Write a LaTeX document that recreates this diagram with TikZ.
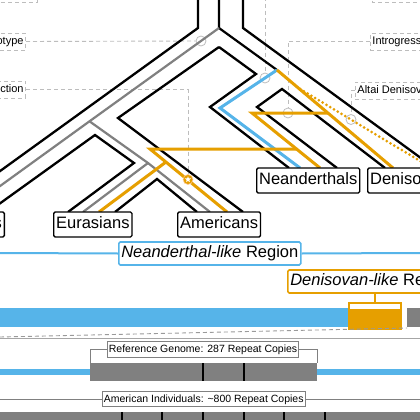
\documentclass[tikz,border=0pt]{standalone}
\usepackage{fontspec}
\setmainfont{Liberation Sans}
\usetikzlibrary{arrows.meta,positioning,shapes.geometric,calc}
\definecolor{nblue}{HTML}{56B4E9}
\definecolor{dorange}{HTML}{E69F00}
\definecolor{refgray}{HTML}{808080}
\definecolor{leadgray}{HTML}{BDBDBD}

\begin{document}
\begin{tikzpicture}[
  x=1pt, y=-1pt,
  font=\fontsize{16.5}{19}\selectfont,
  wall/.style={black, line width=2.3pt},
  gline/.style={line width=2.2pt, refgray},
  kline/.style={line width=2.2pt, black},
  bline/.style={line width=3pt, nblue},
  oline/.style={line width=3pt, dorange},
  odot/.style={line width=3pt, dorange, line cap=round, dash pattern=on 0pt off 4.4pt},
  pop/.style={draw, line width=1.3pt, rounded corners=1.5pt, fill=white, inner xsep=2.5pt, inner ysep=0pt, minimum height=25pt, text height=12pt, text depth=3.5pt},
  region/.style={pop, line width=1.6pt, minimum height=23pt},
  tag/.style={draw=leadgray, dash pattern=on 4pt off 3pt, line width=0.9pt, font=\fontsize{11}{12}\selectfont, inner xsep=2pt, inner ysep=0pt, minimum height=17pt, text height=8pt, text depth=2.5pt},
  lead/.style={leadgray, dash pattern=on 4pt off 3pt, line width=0.9pt},
  ring/.style={circle, draw=leadgray, line width=0.8pt, minimum size=10pt, inner sep=0pt},
  copies/.style={draw=refgray, line width=0.8pt, fill=white, font=\fontsize{10.5}{12}\selectfont, inner xsep=1.5pt, inner ysep=0pt, minimum height=15.5pt, text height=8pt, text depth=2pt},
  blk/.style={fill=refgray, inner sep=0pt},
  divider/.style={black, line width=2pt},
]
\useasboundingbox (0,0) rectangle (420,420);
\fill[white] (0,0) rectangle (420,420);

% --- markers on the lineages ------------------------------------------------
\node[ring] (hapmk) at (201,41) {};
\node[ring] (neamk) at (265,78) {};
\node[ring] (intmk) at (288,113) {};
\node[ring] (altmk) at (351,119.5) {};
\coordinate (neatop) at (265,-10);

% --- side labels, cut by the frame -------------------------------------------
\node[tag, anchor=east] (hap) at (26,41.5) {Haplotype};
\node[tag, anchor=east] (sel) at (26,89.5) {Selection};
\node[tag, anchor=west] (intro) at (370,41.5) {Introgression};
\node[tag, anchor=west] (altai) at (355,90.5) {Altai Denisovan};
\draw[lead] (-5,-20) rectangle (37,2);
\draw[lead] (372,-20) rectangle (430,2);

% --- leaders (under the tree) -----------------------------------------------
\draw[lead] (hap.east) -- (hapmk.west);
\draw[lead] (sel.east) -| (188,174);
\draw[lead] (intro.west) -| (intmk.north);
\draw[lead] (altai.west) -| (altmk.north);
\draw[lead] (neatop) -- (neamk.north);

% --- tree walls --------------------------------------------------------------
\draw[wall] (198,-5) -- (198,28) -- (-40,200);
\draw[wall] (243,-5) -- (243,28) -- (440,172);
\draw[wall] (-12,212) -- (95,135) -- (134,163) -- (68,212);
\draw[wall] (219,47) -- (118,118) -- (243,212);
\draw[wall] (115,212) -- (157,179) -- (197,212);
\draw[wall] (219,47) -- (256,74) -- (210,107) -- (289,168);
\draw[wall] (337,168) -- (257,107) -- (282,89) -- (385,168);

% --- lineages ----------------------------------------------------------------
\draw[kline] (219,-5) -- (219,28) -- (277,70);
\draw[gline] (219,28) -- (89.5,121.3) -- (-40,215);
\draw[gline] (89.5,121.3) -- (148,163) -- (210,212);
\draw[gline] (148,163) -- (83,212);
\draw[bline] (277,70) -- (220,108) -- (300,168);
\draw[oline] (277,70) -- (393,168);
\draw[odot] (300,89) -- (440,173);
\draw[oline] (328,113) -- (252,113) -- (320,168);
\draw[oline] (297,149) -- (150,149) -- (227,212);
\draw[oline] (166,162) -- (99,212);

% --- selection star ----------------------------------------------------------
\node[circle, fill=dorange, draw=orange!40, line width=0.6pt, minimum size=10pt, inner sep=0pt] (selmk) at (188,179.5) {};
\node[star, star points=5, star point ratio=2.3, fill=white, minimum size=6.5pt, inner sep=0pt] (selstar) at (selmk) {};

% --- population boxes --------------------------------------------------------
\node[pop, anchor=east] (afr) at (5,224.5) {Africans};
\node[pop, anchor=west] (eur) at (53,224.5) {Eurasians};
\node[pop, anchor=west] (ame) at (177,224.5) {Americans};
\node[pop, anchor=west] (nea) at (256,180.5) {Neanderthals};
\node[pop, anchor=west] (den) at (367,180.5) {Denisovans};

% --- region bar --------------------------------------------------------------
\node[region, draw=nblue, anchor=west] (nreg) at (118,253.5) {\textit{Neanderthal-like} Region};
\draw[nblue, line width=2pt] (0,253) -- (nreg.west);
\draw[nblue, line width=2pt] (nreg.east) -- (420,253);
\fill[nblue] (0,308) rectangle (348,327);
\fill[refgray] (407,308) rectangle (425,327);
\node[draw=dorange, line width=1.5pt, fill=white, anchor=north west, minimum width=52pt, minimum height=26pt, inner sep=0pt] (dblock) at (348,302) {};
\fill[dorange] (348,308.5) rectangle (400,328);
\node[region, draw=dorange, anchor=west] (dreg) at (287,281.5) {\textit{Denisovan-like} Region};
\draw[dorange, line width=1.5pt] (dblock.north) -- (dblock.north |- dreg.south);

% --- zoom panel --------------------------------------------------------------
\draw[refgray!70, line width=0.8pt] (0,338) -- (420,338);
\draw[refgray!80, line width=0.9pt, dash pattern=on 4pt off 3pt] (0,337) -- (407,328);

\node[blk, anchor=north west, minimum width=227pt, minimum height=18pt] (refblk) at (90,363) {};
\fill[nblue] (0,369) rectangle (90,375);
\fill[nblue] (317,369) rectangle (420,375);
\foreach \xd in {203,244} \draw[divider] (\xd,363) -- (\xd,381);
\node[copies, anchor=west] (refg) at (107,349.5) {Reference Genome: 287 Repeat Copies};
\draw[refgray, line width=0.8pt] (refg.west) -| (refblk.north west);
\draw[refgray, line width=0.8pt] (refg.east) -| (refblk.north east);

\node[copies, anchor=west] (amind) at (102,399) {American Individuals: \textasciitilde800 Repeat Copies};
\draw[refgray, line width=0.8pt] (0,399) -- (amind.west);
\draw[refgray, line width=0.8pt] (amind.east) -- (420,399);
\node[blk, anchor=north west, minimum width=430pt, minimum height=12pt] (ameblk) at (-5,412) {};
\foreach \xd in {122,162,203,244,284,325} \draw[divider] (\xd,412) -- (\xd,422);
\end{tikzpicture}
\end{document}
